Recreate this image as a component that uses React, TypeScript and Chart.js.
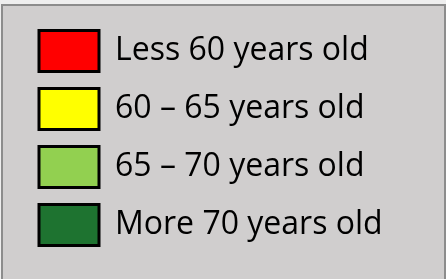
import React, { useEffect, useRef } from "react";
import { Chart, registerables } from "chart.js";

Chart.register(...registerables);

const categories = [
  "Less 60 years old",
  "60 – 65 years old",
  "65 – 70 years old",
  "More 70 years old",
];
const seriesColors = ["#ff0000", "#ffff00", "#92d050", "#1e7330"];
const seriesValues: number[][] = [[], [], [], []];

export default function App() {
  const canvasRef = useRef<HTMLCanvasElement | null>(null);

  useEffect(() => {
    const canvas = canvasRef.current;
    if (!canvas) return;
    const chart = new Chart(canvas, {
      type: "bar",
      data: {
        labels: [],
        datasets: categories.map((label, i) => ({
          label,
          data: seriesValues[i],
          backgroundColor: seriesColors[i],
          borderColor: "#000000",
          borderWidth: 3,
        })),
      },
      options: {
        responsive: false,
        animation: false,
        events: [],
        layout: { padding: { left: 22, top: 13.5, right: 0, bottom: 0 } },
        scales: {
          x: { display: false },
          y: { display: false },
        },
        plugins: {
          tooltip: { enabled: false },
          legend: {
            display: true,
            position: "left",
            align: "start",
            maxWidth: 430,
            labels: {
              boxWidth: 60,
              boxHeight: 41,
              padding: 17,
              color: "#000000",
              font: { family: "Open Sans", size: 32 },
            },
          },
        },
      },
    });
    return () => chart.destroy();
  }, []);

  return (
    <div
      style={{
        position: "fixed",
        left: 0,
        top: 0,
        width: 446,
        height: 279,
        background: "#eeeeee",
        overflow: "hidden",
      }}
    >
      <div
        style={{
          position: "absolute",
          left: 1,
          top: 4,
          width: 441,
          height: 290,
          borderLeft: "2px solid #8c8c8c",
          borderTop: "2px solid #8c8c8c",
          borderRight: "2px solid #8c8c8c",
          background: "#d0cece",
        }}
      />
      <canvas
        ref={canvasRef}
        width={446}
        height={279}
        style={{ position: "absolute", left: 0, top: 0, width: 446, height: 279 }}
      />
    </div>
  );
}
